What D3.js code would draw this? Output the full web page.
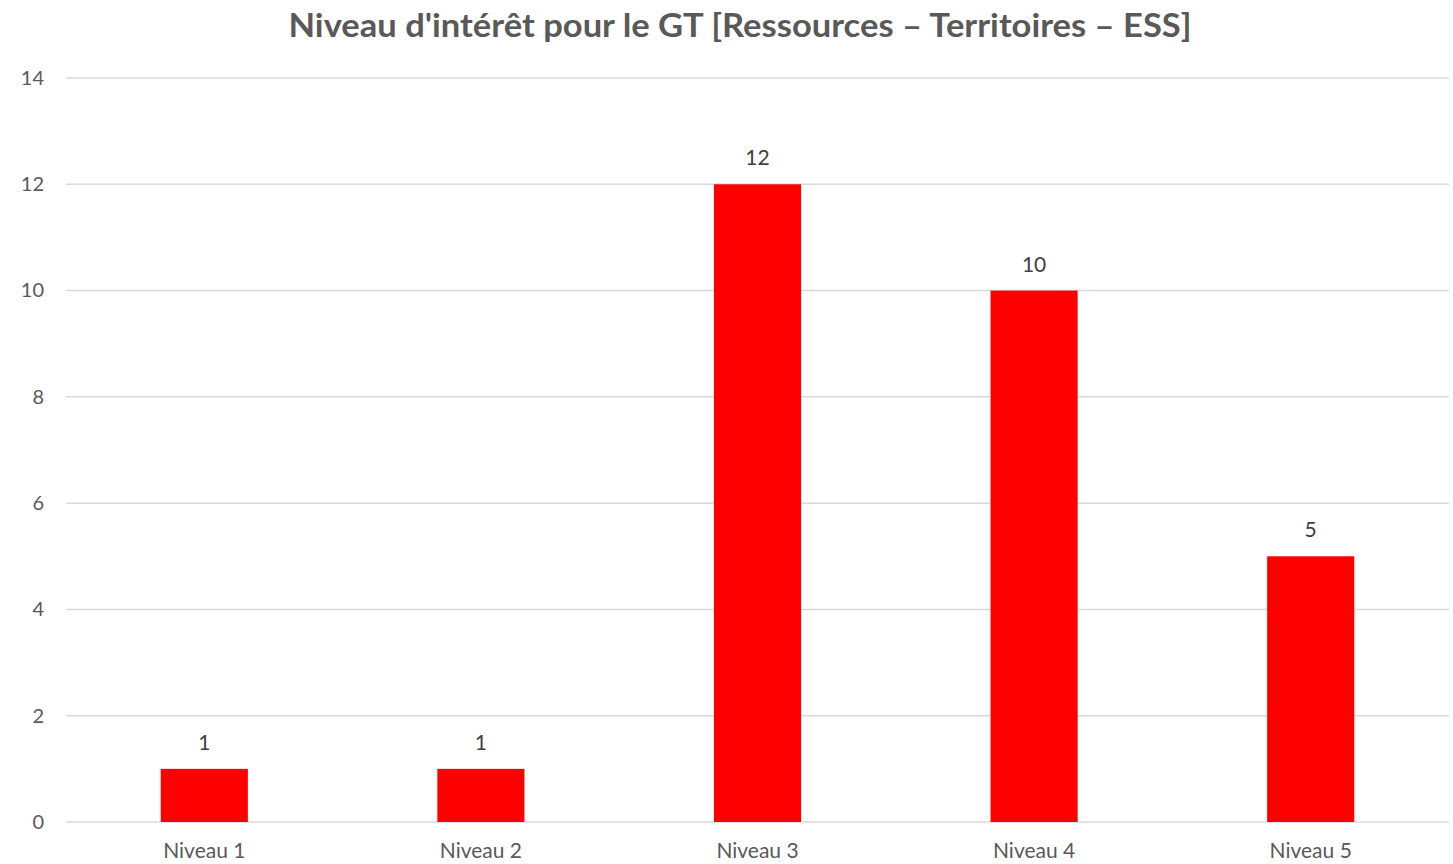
<!DOCTYPE html>
<html>
<head>
<meta charset="utf-8">
<script src="https://cdn.jsdelivr.net/npm/d3@7"></script>
<style>
  body { margin: 0; background: #fff; }
  text { font-family: Lato, "Open Sans", sans-serif; }
</style>
</head>
<body>
<div id="chart"></div>
<script>
// data
var categories = ["Niveau 1", "Niveau 2", "Niveau 3", "Niveau 4", "Niveau 5"];
var values = [1, 1, 12, 10, 5];
var yTicks = [0, 2, 4, 6, 8, 10, 12, 14];
var title = "Niveau d'intérêt pour le GT [Ressources – Territoires – ESS]";

var W = 1453, H = 864;
var margin = {top: 78, right: 4, bottom: 42, left: 66},
    width = W - margin.left - margin.right,
    height = H - margin.top - margin.bottom;

var svg = d3.select("#chart")
  .append("svg")
  .attr("width", W)
  .attr("height", H);

// title
svg.append("text")
  .attr("x", 740)
  .attr("y", 37)
  .attr("text-anchor", "middle")
  .attr("textLength", 903)
  .attr("lengthAdjust", "spacingAndGlyphs")
  .style("font-size", "33px")
  .style("font-weight", "bold")
  .style("fill", "#595959")
  .text(title);

var g = svg.append("g")
  .attr("transform", "translate(" + margin.left + "," + margin.top + ")");

var x = d3.scaleBand()
  .domain(categories)
  .range([0, width])
  .paddingInner(0.685)
  .paddingOuter(0.3425);

var y = d3.scaleLinear()
  .domain([0, 14])
  .range([height, 0]);

// gridlines
g.selectAll(".grid")
  .data(yTicks)
  .enter()
  .append("line")
  .attr("x1", 0)
  .attr("x2", width)
  .attr("y1", function(d) { return y(d) })
  .attr("y2", function(d) { return y(d) })
  .attr("stroke", "#d9d9d9")
  .attr("stroke-width", 1.5);

// y axis labels
var yAxis = g.append("g")
  .call(d3.axisLeft(y).tickValues(yTicks).tickSize(0).tickPadding(22));
yAxis.select(".domain").remove();
yAxis.selectAll("text")
  .style("font-size", "20px")
  .style("fill", "#595959");

// x axis labels
var xAxis = g.append("g")
  .attr("transform", "translate(0," + height + ")")
  .call(d3.axisBottom(x).tickSize(0).tickPadding(21));
xAxis.select(".domain").remove();
xAxis.selectAll("text")
  .style("font-size", "21px")
  .style("fill", "#595959");

// bars
g.selectAll(".bar")
  .data(values)
  .enter()
  .append("rect")
  .attr("x", function(d, i) { return x(categories[i]) })
  .attr("y", function(d) { return y(d) })
  .attr("width", x.bandwidth())
  .attr("height", function(d) { return height - y(d) })
  .attr("fill", "#ff0000");

// value labels
g.selectAll(".lbl")
  .data(values)
  .enter()
  .append("text")
  .attr("x", function(d, i) { return x(categories[i]) + x.bandwidth() / 2 })
  .attr("y", function(d) { return y(d) - 19 })
  .attr("text-anchor", "middle")
  .style("font-size", "21px")
  .style("fill", "#404040")
  .text(function(d) { return d });
</script>
</body>
</html>
